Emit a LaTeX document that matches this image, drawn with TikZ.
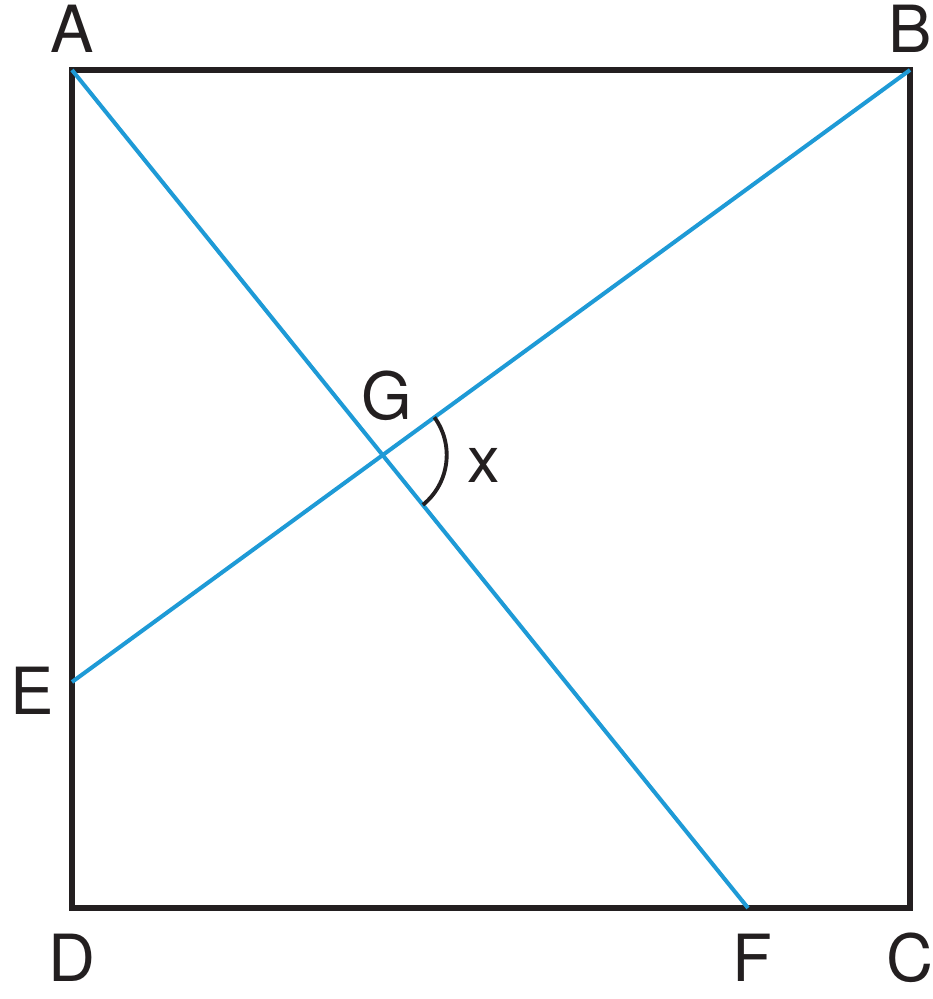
\documentclass[tikz,border=0pt]{standalone}
\usepackage{fontspec}
\setmainfont{TeX Gyre Heros}
\usetikzlibrary{calc}
\definecolor{lineblue}{HTML}{1E9AD6}
\definecolor{inkblack}{HTML}{231F20}
\tikzset{
  sqside/.style={draw=inkblack, line width=1.45pt, line join=miter},
  diagline/.style={draw=lineblue, line width=1.15pt},
  anglemark/.style={draw=inkblack, line width=1.1pt},
  ptlabel/.style={anchor=base, inner sep=0pt, text=inkblack,
    font=\fontsize{18.5}{22}\selectfont},
}
\begin{document}
\begin{tikzpicture}
\useasboundingbox (0,0) rectangle (9.32,9.99);
% corners of the square and the two feet
\coordinate (A) at (0.72,9.29);
\coordinate (B) at (9.10,9.29);
\coordinate (C) at (9.10,0.91);
\coordinate (D) at (0.72,0.91);
\coordinate (E) at (0.72,3.17);
\coordinate (F) at (7.48,0.91);
\coordinate (G) at (intersection of A--F and B--E);
% square
\draw[sqside] (A) -- (B) -- (C) -- (D) -- cycle;
% the two blue segments
\draw[diagline] (A) -- (F);
\draw[diagline] (B) -- (E);
% angle x
\draw[anglemark] ($(G)+(36.2:0.64)$) arc[start angle=36.2, end angle=-51.1, radius=0.64];
% labels
\node[ptlabel] (labA) at (0.72,9.46) {A};
\node[ptlabel] (labB) at (9.10,9.46) {B};
\node[ptlabel] (labC) at (9.10,0.17) {C};
\node[ptlabel] (labD) at (0.72,0.17) {D};
\node[ptlabel] (labE) at (0.32,2.84) {E};
\node[ptlabel] (labF) at (7.52,0.17) {F};
\node[ptlabel] (labG) at (3.87,5.79) {G};
\node[ptlabel] (labx) at (4.84,5.16) {x};
\end{tikzpicture}
\end{document}
